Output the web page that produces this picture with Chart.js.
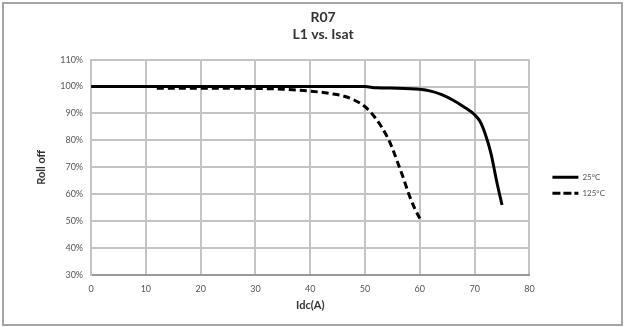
<!DOCTYPE html>
<html>
<head>
<meta charset="utf-8">
<script src="https://cdn.jsdelivr.net/npm/chart.js@4/dist/chart.umd.min.js"></script>
<style>
  html, body { margin: 0; padding: 0; background: #fff; }
  #wrap { position: relative; width: 625px; height: 327px; }
  #frame { position: absolute; left: 2px; top: 2px; width: 617px; height: 320px; border: 2px solid #a6a6a6; pointer-events: none; }
</style>
</head>
<body>
<div id="wrap">
  <canvas id="rollOff"></canvas>
  <div id="frame"></div>
</div>
<script>
// 25°C curve
let idc25 = [0, 10, 20, 30, 40, 50, 52, 56, 60, 62, 64, 66, 68, 70, 71, 72, 73, 74, 75];
let roll25 = [100, 100, 100, 100, 100, 100, 99.5, 99.4, 99, 98.3, 97, 95, 92.5, 89.5, 87, 82, 75, 65, 56];

// 125°C curve
let idc125 = [12, 20, 30, 35, 40, 44, 46, 48, 50, 52, 54, 55, 56, 57, 58, 59, 60];
let roll125 = [99.4, 99.4, 99.3, 99, 98.3, 97.3, 96.5, 95, 92.5, 88, 81.5, 77, 71.5, 66, 60, 55, 51];

let seriesNames = ['25°C', '125°C'];

function toPoints(xs, ys) {
  return xs.map((x, i) => ({ x: x, y: ys[i] }));
}

let ctx = document.getElementById('rollOff').getContext('2d');

let tickFont = { family: 'Lato', size: 9 };
let boldFont = { family: 'Lato', size: 11, weight: 'bold' };

let rollChart = new Chart(ctx, {
  type: 'line',
  data: {
    datasets: [{
      label: seriesNames[0],
      data: toPoints(idc25, roll25),
      borderColor: '#000',
      borderWidth: 3,
      pointRadius: 0,
      cubicInterpolationMode: 'monotone',
      fill: false
    }, {
      label: seriesNames[1],
      data: toPoints(idc125, roll125),
      borderColor: '#000',
      borderWidth: 3,
      borderDash: [7, 4],
      pointRadius: 0,
      cubicInterpolationMode: 'monotone',
      fill: false
    }]
  },
  options: {
    responsive: true,
    maintainAspectRatio: false,
    animation: false,
    layout: { padding: { top: 8, left: 31, right: 10, bottom: 15 } },
    plugins: {
      title: {
        display: true,
        text: ['R07', 'L1 vs. Isat'],
        color: '#333',
        font: { family: 'Lato', size: 14, weight: 'bold' },
        padding: { top: 1, bottom: 17 }
      },
      legend: {
        position: 'right',
        title: { display: true, text: ' ', padding: { top: 36, bottom: 0 } },
        labels: {
          color: '#555',
          font: { family: 'Lato', size: 8 },
          boxWidth: 26,
          boxHeight: 0,
          padding: 8
        }
      },
      tooltip: { enabled: false }
    },
    scales: {
      x: {
        type: 'linear',
        min: 0,
        max: 80,
        ticks: { stepSize: 10, color: '#555', font: tickFont, padding: 9 },
        grid: { color: '#c4c4c4', lineWidth: 2, drawTicks: false },
        border: { color: '#999', width: 2 },
        title: { display: true, text: 'Idc(A)', color: '#333', font: boldFont, padding: { top: -5, bottom: 0 } }
      },
      y: {
        min: 30,
        max: 110,
        ticks: {
          stepSize: 10,
          color: '#555',
          font: tickFont,
          padding: 8,
          callback: v => v + '%'
        },
        grid: { color: '#c4c4c4', lineWidth: 2, drawTicks: false },
        border: { color: '#c4c4c4', width: 2 },
        title: { display: true, text: 'Roll off', color: '#333', font: boldFont }
      },
      // empty spacer between plot and legend
      gap: {
        position: 'right',
        grid: { display: false },
        ticks: { display: false },
        border: { display: false },
        afterFit: s => { s.width = 15; }
      }
    }
  }
});
</script>
</body>
</html>
